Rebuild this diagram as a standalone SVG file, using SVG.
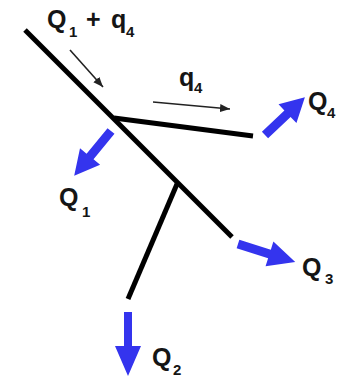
<svg xmlns="http://www.w3.org/2000/svg" width="338" height="378" viewBox="0 0 338 378">
<style>
.pipe{stroke:#000;stroke-width:5;fill:none;stroke-linecap:butt}
.flow{stroke:#222;stroke-width:1.6;fill:none}
.blue{fill:#3434ee}
.lbl{font-family:"Liberation Sans",Arial,sans-serif;font-weight:bold;font-size:25px;fill:#151515}
.sub{font-size:15px}
</style>
<defs>
<marker id="ah" markerUnits="userSpaceOnUse" markerWidth="12" markerHeight="10" refX="10" refY="4" orient="auto">
<path d="M0,0 L10,4 L0,8 z" fill="#222"/>
</marker>
</defs>
<g id="pipes">
<line class="pipe" x1="25" y1="30" x2="232" y2="237"/>
<line class="pipe" x1="114" y1="118" x2="253" y2="136"/>
<line class="pipe" x1="177" y1="184" x2="128" y2="299"/>
</g>
<g id="connectors">
<line class="flow" x1="70" y1="50" x2="103" y2="87" marker-end="url(#ah)"/>
<line class="flow" x1="153" y1="102" x2="230" y2="109" marker-end="url(#ah)"/>
</g>
<g id="arrow-Q4"><path class="blue" transform="translate(265,135) rotate(-43.5)" d="M0,-4.5 L31,-4.5 L31,-13 L55,0 L31,13 L31,4.5 L0,4.5 z"/></g>
<g id="arrow-Q1"><path class="blue" transform="translate(111,131) rotate(129.4)" d="M0,-4.5 L33,-4.5 L33,-13 L58,0 L33,13 L33,4.5 L0,4.5 z"/></g>
<g id="arrow-Q3"><path class="blue" transform="translate(238,244) rotate(17.5)" d="M0,-4.5 L33,-4.5 L33,-13 L60,0 L33,13 L33,4.5 L0,4.5 z"/></g>
<g id="arrow-Q2"><path class="blue" transform="translate(128,312) rotate(90)" d="M0,-4 L34,-4 L34,-13 L64,0 L34,13 L34,4 L0,4 z"/></g>
<g id="label-Q1q4"><text class="lbl" x="47" y="28">Q<tspan class="sub" x="69" y="37">1</tspan><tspan x="86" y="28">+</tspan><tspan x="111" y="28">q</tspan><tspan class="sub" x="126" y="37">4</tspan></text></g>
<g id="label-q4"><text class="lbl" x="179" y="86">q<tspan class="sub" x="194" y="93">4</tspan></text></g>
<g id="label-Q4"><text class="lbl" x="308" y="110">Q<tspan class="sub" x="327" y="118">4</tspan></text></g>
<g id="label-Q1"><text class="lbl" x="59" y="206">Q<tspan class="sub" x="82" y="217">1</tspan></text></g>
<g id="label-Q3"><text class="lbl" x="302" y="276">Q<tspan class="sub" x="325" y="284">3</tspan></text></g>
<g id="label-Q2"><text class="lbl" x="152" y="366">Q<tspan class="sub" x="173" y="375">2</tspan></text></g>
</svg>
